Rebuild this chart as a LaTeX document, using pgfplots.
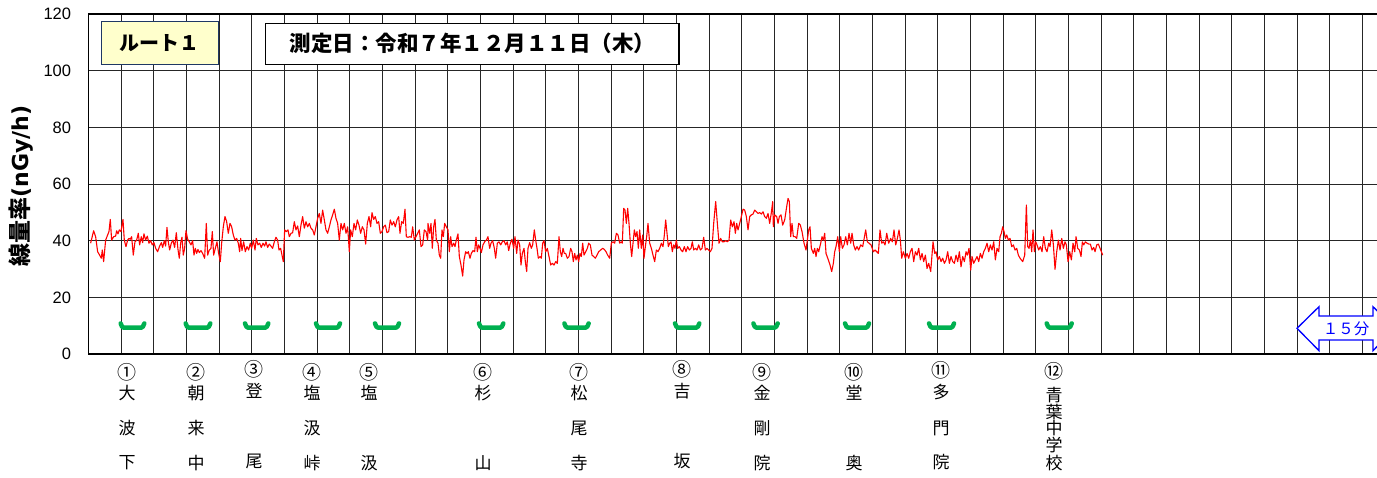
\documentclass[border=0pt]{standalone}
\usepackage{pgfplots}
\pgfplotsset{compat=1.18}
\usepackage{fontspec}
\setmainfont{Liberation Sans}
\newfontfamily\cjk{Noto Sans CJK JP}
\newfontfamily\dejavu{DejaVu Sans}
\definecolor{doseRed}{RGB}{255,0,0}
\definecolor{stopGreen}{RGB}{0,176,80}
\definecolor{boxYellow}{RGB}{255,255,204}
\definecolor{boxNavy}{RGB}{31,56,100}
\definecolor{arrowBlue}{RGB}{0,0,255}
\begin{document}
\begin{tikzpicture}
\useasboundingbox (0,0) rectangle (1377pt,477pt);
\begin{scope}
\clip (0,0) rectangle (1377pt,477pt);
% x in 1/98 of a grid step (one step = 5 min)
\begin{axis}[
    at={(88.3pt,123pt)}, anchor=south west,
    scale only axis, width=1306.8pt, height=340pt,
    xmin=0, xmax=3920, ymin=0, ymax=120,
    xtick={0,98,...,3920}, xticklabels={},
    ytick={0,20,...,120},
    xmajorgrids, ymajorgrids,
    grid style={line width=0.85pt, black!85},
    axis line style={line width=1.5pt, black},
    major tick length=0pt,
    /pgf/number format/assume math mode=true,
    yticklabel style={font=\fontsize{16.5}{18}\selectfont, anchor=east, inner sep=0pt, xshift=-17pt},
    unbounded coords=jump,
    clip=false,
  ]
  % dose rate
  \addplot[doseRed, line width=1.1pt, line join=round] coordinates {
  (7,39.1)(16,43.5)(22,41.4)(28,36.1)(34,34.9)(39,33.8)(42,36.7)(46,32.6)(52,40.2)(58,42)(62,43.2)(66,47.5)(70,40.2)(76,41.4)(82,41.6)(85,43.5)(89,42.4)(93,43.8)(98,43.2)(104,47.5)(108,40.2)(113,37.9)(118,40.2)(122,40.8)(126,40.5)(130,41.4)(135,34.9)(140,39.6)(145,40.2)(150,42.6)(154,38.5)(159,41.4)(163,39.3)(167,42.4)(172,40.2)(177,41.6)(182,39.1)(187,40)(192,38.5)(197,39.3)(202,37.3)(208,36.1)(214,38.1)(219,39.3)(223,37.6)(228,40)(232,38.1)(236,44.7)(240,39.6)(244,36.7)(249,39.1)(254,40.2)(259,37.6)(264,42.8)(269,36.9)(273,33.8)(277,39.1)(281,41.2)(285,34.9)(289,37.3)(293,43.5)(298,40.5)(303,39.6)(308,38.5)(313,40)(317,34.9)(321,37.3)(325,35.5)(329,36.9)(333,35.8)(338,36.5)(343,35.5)(349,33.8)(354,46.1)(358,34.9)(363,36.7)(368,37.3)(372,43.2)(376,34.9)(381,37.3)(386,39.6)(391,35.5)(396,32.6)(400,39.1)(405,44.9)(410,48.5)(415,46.7)(420,42.6)(425,46.1)(430,44.9)(435,42)(440,40.2)(445,40.8)(450,39.1)(454,36.1)(457,40.8)(461,36.5)(466,39.6)(471,36.1)(476,37.9)(481,36.7)(486,39.1)(490,37.3)(495,40.2)(500,36.7)(504,40.8)(509,38.5)(514,39.1)(519,37.6)(524,39.1)(529,38.1)(533,39.6)(538,37.6)(543,38.8)(548,38.1)(553,37.3)(558,39.6)(563,41.2)(568,40.2)(572,36.7)(577,37.3)(581,34.9)(585,32.6)(589,43.8)(594,43.2)(599,43.8)(603,41.4)(608,42.6)(613,42.8)(618,46.7)(623,43.8)(628,45.2)(633,41.4)(638,45.5)(643,48.5)(648,44.4)(653,46.7)(658,44.9)(663,46.1)(668,44.4)(673,43.8)(678,42)(683,44.9)(688,47.9)(693,49.6)(698,46.1)(703,50.8)(708,47.3)(713,43.8)(718,42.6)(723,44.9)(728,47.3)(733,49.1)(738,51.1)(743,47.9)(748,46.1)(753,40.2)(758,46.1)(763,43.8)(768,46.1)(773,42.6)(778,44.9)(783,36.1)(787,43.8)(792,41.4)(797,46.1)(802,43.8)(807,47.3)(812,45.5)(817,42.6)(822,44.9)(827,43.8)(832,38.8)(837,46.1)(842,48.5)(847,44.9)(851,49.9)(856,47.5)(861,48.5)(866,46.1)(871,46.7)(876,42.6)(881,43.2)(886,44.9)(891,45.5)(896,42.8)(901,43.2)(906,47.3)(911,45.5)(916,46.7)(921,44.9)(926,47.3)(931,48.5)(935,42.6)(940,46.7)(945,46.1)(950,51.1)(954,41.4)(959,41.2)(964,41.4)(969,41.2)(973,44.9)(978,40.2)(983,41.4)(988,42.6)(993,43.8)(998,37.9)(1003,38.5)(1008,43.8)(1013,43.2)(1018,40.2)
  (1019,46.1)(1024,42.6)(1028,46.1)(1032,37.3)(1036,44.9)(1040,47.5)(1044,40.2)(1049,39.1)(1053,34.9)(1057,33.8)(1061,43.8)(1065,41.4)(1069,46.1)(1074,44.9)(1079,43.8)(1083,36.1)(1087,41.4)(1091,37.9)(1096,39.1)(1100,37.9)(1104,40.2)(1109,42.4)(1113,34.4)(1118,31.4)(1123,27.5)(1127,33.2)(1132,36.1)(1136,35.5)(1140,36.1)(1145,33.8)(1149,35.5)(1154,36.5)(1159,36.1)(1163,41.2)(1167,36.1)(1171,38.5)(1175,37.3)(1179,35.8)(1184,38.5)(1189,39.6)(1194,40.2)(1199,41.4)(1204,37.3)(1208,39.1)(1213,40.0)(1218,37.3)(1222,33.8)(1227,39.1)(1232,39.6)(1237,38.5)(1242,39.6)(1247,40.0)(1252,38.5)(1257,39.6)(1261,36.5)(1266,39.1)(1271,40.5)(1276,37.3)(1280,41.4)(1285,35.5)(1289,40.2)(1294,38.5)(1298,31.4)(1302,35.5)(1307,37.3)(1311,32.6)(1315,29.1)(1319,37.3)(1324,39.3)(1329,37.3)(1333,38.5)(1338,43.8)(1342,40.2)(1346,37.3)(1350,33.8)(1355,34.4)(1359,33.8)(1363,39.1)(1367,40.0)(1372,36.1)(1377,37.3)(1382,34.4)(1387,31.4)(1392,32.0)(1397,31.4)(1402,32.6)(1407,32.0)(1412,41.4)(1416,36.1)(1420,34.4)(1424,37.3)(1428,35.5)(1432,35.5)(1437,33.8)(1442,34.4)(1447,37.3)(1451,36.1)(1455,32.6)(1459,35.5)(1463,33.2)(1467,34.9)(1471,32.6)(1475,35.5)(1479,34.4)(1483,39.1)(1487,34.9)(1492,36.1)(1497,37.3)(1501,39.1)(1506,38.5)(1511,34.9)(1516,34.4)(1521,33.8)(1526,34.9)(1531,36.1)(1537,36.7)(1543,37.3)(1548,36.9)(1553,36.1)(1558,34.9)(1564,33.8)(1569,39.1)(1574,39.6)(1579,39.1)(1584,42.6)(1589,42.0)(1594,39.1)(1598,39.6)(1602,39.1)(1606,51.4)(1610,50.8)(1614,46.1)(1618,51.4)(1622,46.1)(1626,39.1)(1630,34.4)(1634,39.1)(1638,43.8)(1642,41.4)(1646,43.2)(1650,37.3)(1654,43.8)(1659,37.3)(1663,42.0)(1667,33.8)(1671,37.9)(1675,41.4)(1679,46.1)(1684,39.1)(1689,37.3)(1694,34.9)(1699,32.6)(1704,36.7)(1709,36.1)(1714,37.3)(1719,39.1)(1724,37.9)(1728,42.0)(1732,47.3)(1736,42.6)(1740,37.9)(1744,39.1)(1748,39.6)(1752,36.1)(1756,38.5)(1760,37.3)(1764,40.2)(1768,37.3)(1773,37.9)(1778,36.7)(1783,36.1)(1788,37.9)(1793,36.1)(1798,37.9)(1803,36.7)(1808,37.3)(1812,39.6)(1816,36.7)(1821,37.3)(1826,36.7)(1831,38.5)(1836,36.7)(1841,37.3)(1846,41.2)(1851,36.7)(1856,37.3)(1861,36.7)(1866,36.1)(1871,37.3)(1876,46.1)(1882,53.8)(1887,46.1)(1892,39.1)(1897,40.8)(1902,39.6)(1907,39.6)(1912,40.0)(1917,39.6)(1922,40.2)(1927,47.3)(1932,44.9)(1937,46.7)(1941,42.6)(1945,46.1)(1949,43.8)(1954,46.1)(1959,48.5)(1964,51.1)(1969,50.8)(1974,48.5)(1979,43.8)(1984,48.5)(1989,49.1)(1994,49.4)(1999,50.8)(2004,50.2)(2009,49.6)(2014,49.9)(2019,49.4)(2024,50.2)(2029,48.5)(2034,47.9)(2039,49.6)(2044,46.1)(2049,49.9)
  (2053,53.8)(2055,44.9)(2059,49.1)(2065,48.5)(2069,46.1)(2073,48.5)(2078,49.1)(2083,45.5)(2089,47.3)(2095,52.0)(2099,54.9)(2103,53.8)(2107,41.4)(2111,46.1)(2115,41.4)(2120,41.4)(2125,40.8)(2131,46.1)(2136,45.5)(2141,43.2)(2147,39.1)(2153,36.7)(2161,43.8)(2165,44.9)(2169,37.3)(2175,35.5)(2179,37.3)(2183,34.4)(2187,37.3)(2191,36.1)(2197,39.1)(2201,41.4)(2205,40.2)(2209,42.6)(2213,35.5)(2220,33.2)(2225,31.4)(2230,29.1)(2235,32.0)(2239,36.1)(2243,37.9)(2248,41.4)(2253,36.1)(2257,41.4)(2262,37.3)(2267,38.5)(2272,41.4)(2277,38.5)(2282,42.6)(2287,39.1)(2291,42.6)(2296,38.5)(2301,36.7)(2306,37.9)(2311,36.7)(2317,38.5)(2323,37.9)(2332,43.8)(2337,39.6)(2342,39.1)(2348,38.5)(2355,36.1)(2360,36.7)(2370,35.5)(2375,43.8)(2380,39.1)(2385,39.6)(2390,38.5)(2395,42.6)(2401,39.1)(2407,40.8)(2412,39.6)(2417,43.8)(2422,38.5)(2427,40.8)(2432,43.8)(2436,40.2)(2440,33.8)(2445,36.1)(2451,33.8)(2456,35.5)(2461,33.8)(2466,36.1)(2471,37.3)(2476,32.6)(2481,36.1)(2486,34.9)(2491,37.3)(2496,33.2)(2501,35.5)(2506,32.6)(2511,34.9)(2516,30.2)(2521,32.0)(2527,29.1)(2534,39.6)(2539,35.5)(2543,36.1)(2548,33.2)(2553,34.4)(2558,32.6)(2563,33.8)(2568,32.0)(2573,33.2)(2578,36.1)(2583,32.0)(2588,34.4)(2593,32.6)(2598,32.0)(2603,34.9)(2608,32.6)(2613,36.1)(2618,30.8)(2623,34.4)(2628,32.6)(2633,36.1)(2637,34.9)(2642,37.3)(2647,29.6)(2651,34.4)(2656,32.0)(2661,33.2)(2666,34.4)(2671,32.6)(2676,35.5)(2681,33.8)(2686,36.1)(2691,37.3)(2696,39.1)(2701,36.1)(2706,38.5)(2711,36.7)(2716,39.6)(2721,33.2)(2726,37.3)(2731,36.1)(2735,41.4)(2739,42.6)(2743,44.9)(2747,43.2)(2751,40.8)(2755,42.0)(2760,40.2)(2765,40.8)(2770,37.9)(2775,38.5)(2780,36.7)(2785,37.3)(2790,34.9)(2795,33.8)(2803,32.6)(2809,34.9)(2814,52.6)(2818,37.9)(2822,37.3)(2826,40.2)(2830,36.1)(2834,43.8)(2838,36.1)(2842,39.6)(2846,38.5)(2851,36.7)(2856,37.9)(2861,36.1)(2866,41.4)(2871,37.3)(2876,36.1)(2881,39.1)(2885,37.9)(2890,43.8)(2895,38.5)(2900,29.9)(2905,36.1)(2910,40.2)(2915,36.7)(2920,40.8)(2925,37.3)(2930,39.6)(2934,38.5)(2939,32.6)(2944,36.1)(2949,33.2)(2954,39.1)(2959,36.1)(2963,41.4)(2968,37.3)(2973,36.7)(2978,34.4)(2982,39.6)(2986,38.5)(2991,39.6)(2996,39.1)(3001,38.8)(3006,38.8)(3011,36.7)(3016,37.6)(3020,36.1)(3025,38.5)(3030,38.8)(3035,37.3)(3043,34.9)
  };
  % stops
  \addplot[stopGreen, line width=4.5pt, line cap=round, line join=round] coordinates {
  (97,10.8)(101,9.7)(106,9.3)(159,9.3)(164,9.7)(168,10.8) (168,nan)
  (292,10.8)(296,9.7)(301,9.3)(357,9.3)(362,9.7)(366,10.8) (366,nan)
  (470,10.8)(474,9.7)(479,9.3)(531,9.3)(536,9.7)(540,10.8) (540,nan)
  (683,10.8)(687,9.7)(692,9.3)(746,9.3)(751,9.7)(755,10.8) (755,nan)
  (860,10.8)(864,9.7)(869,9.3)(923,9.3)(928,9.7)(932,10.8) (932,nan)
  (1172,10.8)(1176,9.7)(1181,9.3)(1236,9.3)(1241,9.7)(1245,10.8) (1245,nan)
  (1428,10.8)(1432,9.7)(1437,9.3)(1492,9.3)(1497,9.7)(1501,10.8) (1501,nan)
  (1760,10.8)(1764,9.7)(1769,9.3)(1824,9.3)(1829,9.7)(1833,10.8) (1833,nan)
  (1995,10.8)(1999,9.7)(2004,9.3)(2059,9.3)(2064,9.7)(2068,10.8) (2068,nan)
  (2270,10.8)(2274,9.7)(2279,9.3)(2333,9.3)(2338,9.7)(2342,10.8) (2342,nan)
  (2522,10.8)(2526,9.7)(2531,9.3)(2588,9.3)(2593,9.7)(2597,10.8) (2597,nan)
  (2875,10.8)(2879,9.7)(2884,9.3)(2941,9.3)(2946,9.7)(2950,10.8)
  };
\end{axis}
\begin{scope}[x=1pt,y=1pt]
  \draw[arrowBlue, line width=1.3pt, fill=white, line join=miter]
    (1297,148.7) -- (1319,170.3) -- (1319,161) -- (1373,161) -- (1373,170.3) -- (1395,148.7)
    -- (1373,126.3) -- (1373,137) -- (1319,137) -- (1319,126.3) -- cycle;
  \node[arrowBlue, font=\cjk\fontsize{15.5}{16}\selectfont] at (1346,148.7) {１５分};
\end{scope}
\end{scope}
\begin{scope}[x=1pt,y=1pt]
  % title boxes
  \draw[fill=boxYellow, draw=boxNavy, line width=1.3pt] (101.3,455.3) rectangle (218.3,412.7);
  \node[font=\cjk\bfseries\fontsize{20}{22}\selectfont] at (159.8,434) {ルート１};
  \draw[fill=white, draw=black, line width=1.2pt] (265.7,453.7) rectangle (679,412.7);
  \node[font=\cjk\bfseries\fontsize{21.5}{24}\selectfont] at (472.3,433.2) {測定日：令和７年１２月１１日（木）};
  % y label
  \node[rotate=90, inner sep=0pt] at (21,291)
    {{\cjk\bfseries\fontsize{23}{26}\selectfont 線量率}{\dejavu\bfseries\fontsize{22}{26}\selectfont(nGy/h)}};
  % station labels
  \foreach \x/\d/\a/\b/\c/\s in {127/①/大/波/下/0, 196/②/朝/来/中/0, 254/③/登//尾/3,
      312/④/塩/汲/峠/0, 369/⑤/塩//汲/0, 483/⑥/杉//山/0, 579/⑦/松/尾/寺/0,
      682/⑧/吉//坂/3, 762/⑨/金/剛/院/0, 854/⑩/堂//奥/0, 941/⑪/多/門/院/2} {
    \node[font=\cjk\fontsize{19}{20}\selectfont] at (\x,105+\s) {\d};
    \node[font=\cjk\fontsize{17}{18}\selectfont] at (\x,84+0.6*\s) {\a};
    \node[font=\cjk\fontsize{17}{18}\selectfont] at (\x,49) {\b};
    \node[font=\cjk\fontsize{17}{18}\selectfont] at (\x,14+0.5*\s) {\c};
  }
  \node[font=\cjk\fontsize{19}{20}\selectfont] at (1054,105.3) {⑫};
  \foreach \ch/\yy in {青/82, 葉/65.3, 中/49, 学/32, 校/13.7}
    \node[font=\cjk\fontsize{17}{18}\selectfont] at (1054,\yy) {\ch};
\end{scope}
\end{tikzpicture}
\end{document}
